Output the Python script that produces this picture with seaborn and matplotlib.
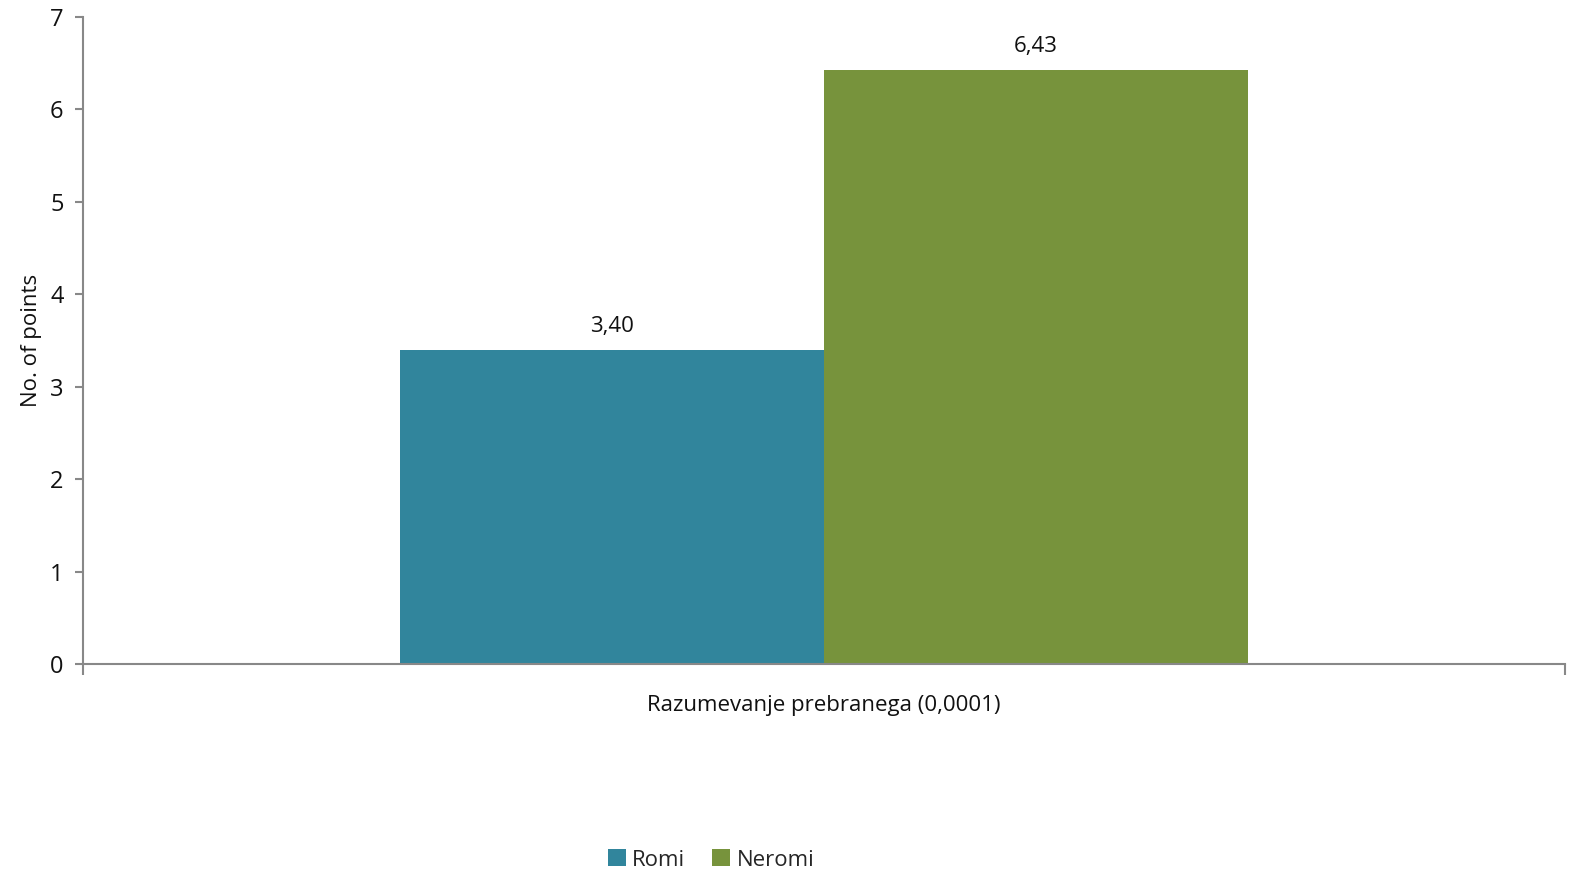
import pandas as pd
import matplotlib
matplotlib.use('Agg')
import matplotlib.pyplot as plt
import seaborn as sns
from matplotlib.ticker import FixedLocator

# Data
category = ['Razumevanje prebranega (0,0001)']
groups = ['Romi', 'Neromi']
values = [3.40, 6.43]
colors = ['#31859C', '#77933C']

df = pd.DataFrame({'category': category * len(groups), 'group': groups, 'value': values})

sns.set_style('white')
plt.rcParams['font.family'] = ['Open Sans', 'DejaVu Sans']

fig = plt.figure(figsize=(15.73, 8.76), dpi=100)
ax = fig.add_axes([83 / 1573, 1 - 664 / 876, (1565 - 83) / 1573, (664 - 17) / 876])

sns.barplot(data=df, x='category', y='value', hue='group',
            palette=colors, width=0.572, saturation=1, linewidth=0, ax=ax, legend=True)

# value labels
for container in ax.containers:
    labels = [f'{v:.2f}'.replace('.', ',') for v in container.datavalues]
    ax.bar_label(container, labels=labels, padding=9, fontsize=16, color='#111111')

ax.set_xlim(-0.5, 0.5)
ax.set_ylim(0, 7)
ax.set_yticks(range(0, 8))
ax.set_xlabel('')
ax.set_ylabel('No. of points', fontsize=16, labelpad=6, color='#111111')

axis_color = '#888888'
for side in ['top', 'right']:
    ax.spines[side].set_visible(False)
for side in ['left', 'bottom']:
    ax.spines[side].set_color(axis_color)
    ax.spines[side].set_linewidth(1.5)

ax.tick_params(axis='y', length=6, width=1.5, color=axis_color, labelsize=17, left=True, pad=8,
               labelcolor='#111111')
ax.tick_params(axis='x', which='major', length=0, labelsize=16, pad=22, labelcolor='#111111')
ax.xaxis.set_minor_locator(FixedLocator([-0.5, 0.5]))
ax.tick_params(axis='x', which='minor', length=8, width=1.5, color=axis_color, bottom=True)

ax.legend(loc='center', bbox_to_anchor=(711 / 1573, 1 - 860 / 876),
          bbox_transform=fig.transFigure, ncol=2, frameon=False, fontsize=16,
          handlelength=0.8, handleheight=0.8, handletextpad=0.3, columnspacing=1.2)

fig.savefig('out.png', dpi=100)
